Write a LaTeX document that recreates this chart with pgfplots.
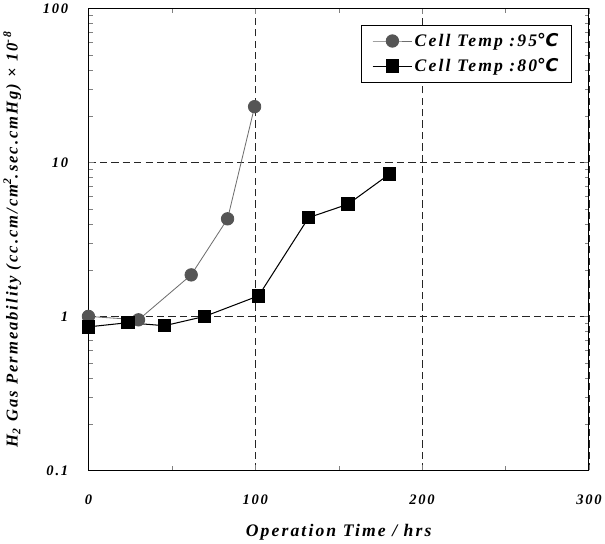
\documentclass[border=0pt]{standalone}
\usepackage{pgfplots}
\pgfplotsset{compat=1.18}
\usepackage{fontspec}
\setmainfont{Liberation Serif}[LetterSpace=12]
\newfontfamily\symfont{DejaVu Sans}
\newcommand{\degC}{{\symfont\bfseries\itshape ℃}}
\definecolor{circgray}{RGB}{85,85,85}
\definecolor{linegray}{RGB}{110,110,110}
\begin{document}
\begin{tikzpicture}
\begin{axis}[
    scale only axis,
    width=482pt, height=445pt,
    ymode=log,
    xmin=0, xmax=300, ymin=0.1, ymax=100,
    xtick={0,100,200,300},
    minor xtick={50,150,250},
    ytick={0.1,1,10,100},
    yticklabels={0.1,1,10,100},
    tick align=inside,
    major tick length=5pt, minor tick length=4pt,
    axis line style={line width=1pt},
    grid=major,
    grid style={black!85, dash pattern=on 7pt off 4pt, line width=0.7pt},
    font=\fontsize{14}{16}\selectfont\bfseries\itshape,
    /pgf/number format/assume math mode=true,
    xticklabel style={yshift=-20pt},
    yticklabel style={xshift=-16pt},
    xlabel={Operation Time / hrs},
    xlabel style={font=\fontsize{17}{19}\selectfont\bfseries\itshape,
        at={(axis description cs:0.5,-0.133)}, anchor=center},
    ylabel={H\textsubscript{2} Gas Permeability (cc.cm/cm\textsuperscript{2}.sec.cmHg) × 10\textsuperscript{-8}},
    ylabel style={font=\fontsize{16}{18}\selectfont\bfseries\itshape,
        at={(axis description cs:-0.152,0.5)}, anchor=center},
    legend style={at={(0.965,0.964)}, anchor=north east, draw=black, line width=0.6pt,
        font=\fontsize{17}{19}\selectfont\bfseries\itshape, inner xsep=10pt, inner ysep=6pt,
        row sep=6pt},
    legend cell align=left,
    legend image code/.code={
        \draw[mark repeat=2, mark phase=2] plot coordinates {(0pt,0pt) (19pt,0pt) (38pt,0pt)};},
]
\addplot[color=linegray, line width=0.8pt, mark=*, mark size=6pt,
    mark options={fill=circgray, draw=circgray}] coordinates {
    (0,1.0) (30,0.95) (61.6,1.86) (83.4,4.3) (99.6,23.0)};
\addlegendentry{Cell Temp :95\degC}
\addplot[color=black, line width=1pt, mark=square*, mark size=6pt,
    mark options={fill=black}] coordinates {
    (0,0.855) (23.6,0.91) (45.6,0.87) (69.7,1.0) (102,1.36)
    (132,4.38) (155.6,5.35) (180.5,8.4)};
\addlegendentry{Cell Temp :80\degC}
\end{axis}
\end{tikzpicture}
\end{document}
